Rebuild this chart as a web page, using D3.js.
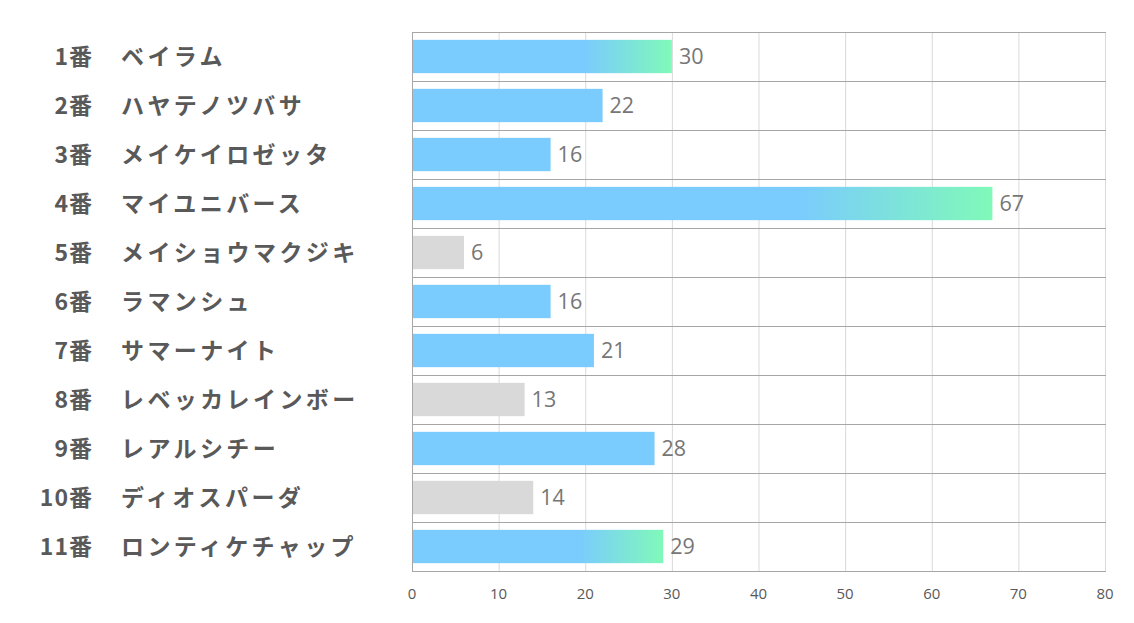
<!DOCTYPE html>
<html>
<head>
<meta charset="utf-8">
<script src="https://cdn.jsdelivr.net/npm/d3@7"></script>
<style>
  body { margin: 0; background: #fff; }
  svg { display: block; }
</style>
</head>
<body>
<script>
var numbers = ['1番', '2番', '3番', '4番', '5番', '6番', '7番', '8番', '9番', '10番', '11番'];
var names = ['ベイラム', 'ハヤテノツバサ', 'メイケイロゼッタ', 'マイユニバース', 'メイショウマクジキ',
  'ラマンシュ', 'サマーナイト', 'レベッカレインボー', 'レアルシチー', 'ディオスパーダ', 'ロンティケチャップ'];
var values = [30, 22, 16, 67, 6, 16, 21, 13, 28, 14, 29];
// bar style per horse: 'top' = gradient, 'low' = gray, 'mid' = blue
var kinds = ['top', 'mid', 'mid', 'top', 'low', 'mid', 'mid', 'low', 'mid', 'low', 'top'];
var xTicks = [0, 10, 20, 30, 40, 50, 60, 70, 80];

var width = 1134, height = 623;
var margin = {top: 32, right: 29, bottom: 52, left: 412};

var svg = d3.select('body').append('svg')
  .attr('width', width)
  .attr('height', height);

var defs = svg.append('defs');
var grad = defs.append('linearGradient')
  .attr('id', 'topGrad')
  .attr('x1', '0%').attr('x2', '100%')
  .attr('y1', '0%').attr('y2', '0%');
grad.append('stop').attr('offset', '0%').attr('stop-color', '#7acbfe');
grad.append('stop').attr('offset', '66%').attr('stop-color', '#7acbfe');
grad.append('stop').attr('offset', '100%').attr('stop-color', '#80f9b9');

var x = d3.scaleLinear()
  .domain([0, 80])
  .range([margin.left, width - margin.right]);

var y = d3.scaleBand()
  .domain(d3.range(values.length))
  .range([margin.top, height - margin.bottom])
  .paddingInner(0.32)
  .paddingOuter(0.16);

var step = y.step();

// vertical grid
svg.append('g')
  .selectAll('line')
  .data(xTicks)
  .enter().append('line')
  .attr('x1', function(d) { return x(d) + 0.5; })
  .attr('x2', function(d) { return x(d) + 0.5; })
  .attr('y1', margin.top)
  .attr('y2', height - margin.bottom)
  .attr('stroke', function(d) { return d === 0 ? '#a6a6a6' : '#d9d9d9'; })
  .attr('stroke-width', 1);

// horizontal row separators
svg.append('g')
  .selectAll('line')
  .data(d3.range(values.length + 1))
  .enter().append('line')
  .attr('x1', x(0))
  .attr('x2', x(80) + 1)
  .attr('y1', function(i) { return Math.round(margin.top + i * step) + 0.5; })
  .attr('y2', function(i) { return Math.round(margin.top + i * step) + 0.5; })
  .attr('stroke', '#a6a6a6')
  .attr('stroke-width', 1);

// bars
svg.append('g')
  .selectAll('rect')
  .data(values)
  .enter().append('rect')
  .attr('x', x(0) + 1)
  .attr('y', function(d, i) { return y(i); })
  .attr('width', function(d) { return x(d) - x(0) - 1; })
  .attr('height', y.bandwidth())
  .attr('fill', function(d, i) {
    if (kinds[i] === 'top') return 'url(#topGrad)';
    if (kinds[i] === 'low') return '#d9d9d9';
    return '#7acbfe';
  });

// value labels
svg.append('g')
  .selectAll('text')
  .data(values)
  .enter().append('text')
  .attr('x', function(d) { return x(d) + 7; })
  .attr('y', function(d, i) { return y(i) + y.bandwidth() / 2; })
  .attr('dy', '0.36em')
  .attr('font-family', '"Open Sans", "Noto Sans", sans-serif')
  .attr('font-size', 21.5)
  .attr('fill', '#767676')
  .text(function(d) { return d; });

// row labels
var labels = svg.append('g')
  .attr('font-family', '"Noto Sans CJK JP", sans-serif')
  .attr('font-weight', 'bold')
  .attr('font-size', 23)
  .attr('fill', '#595959');

labels.selectAll('text.num')
  .data(numbers)
  .enter().append('text')
  .attr('class', 'num')
  .attr('x', 93)
  .attr('y', function(d, i) { return y(i) + y.bandwidth() / 2; })
  .attr('dy', '0.35em')
  .attr('text-anchor', 'end')
  .attr('letter-spacing', 1)
  .text(function(d) { return d; });

labels.selectAll('text.name')
  .data(names)
  .enter().append('text')
  .attr('class', 'name')
  .attr('x', 121)
  .attr('y', function(d, i) { return y(i) + y.bandwidth() / 2; })
  .attr('dy', '0.35em')
  .attr('letter-spacing', 3.4)
  .text(function(d) { return d; });

// x axis tick labels
svg.append('g')
  .selectAll('text')
  .data(xTicks)
  .enter().append('text')
  .attr('x', function(d) { return x(d); })
  .attr('y', height - margin.bottom + 28)
  .attr('text-anchor', 'middle')
  .attr('font-family', '"Open Sans", "Noto Sans", sans-serif')
  .attr('font-size', 15)
  .attr('fill', '#595959')
  .text(function(d) { return d; });
</script>
</body>
</html>
